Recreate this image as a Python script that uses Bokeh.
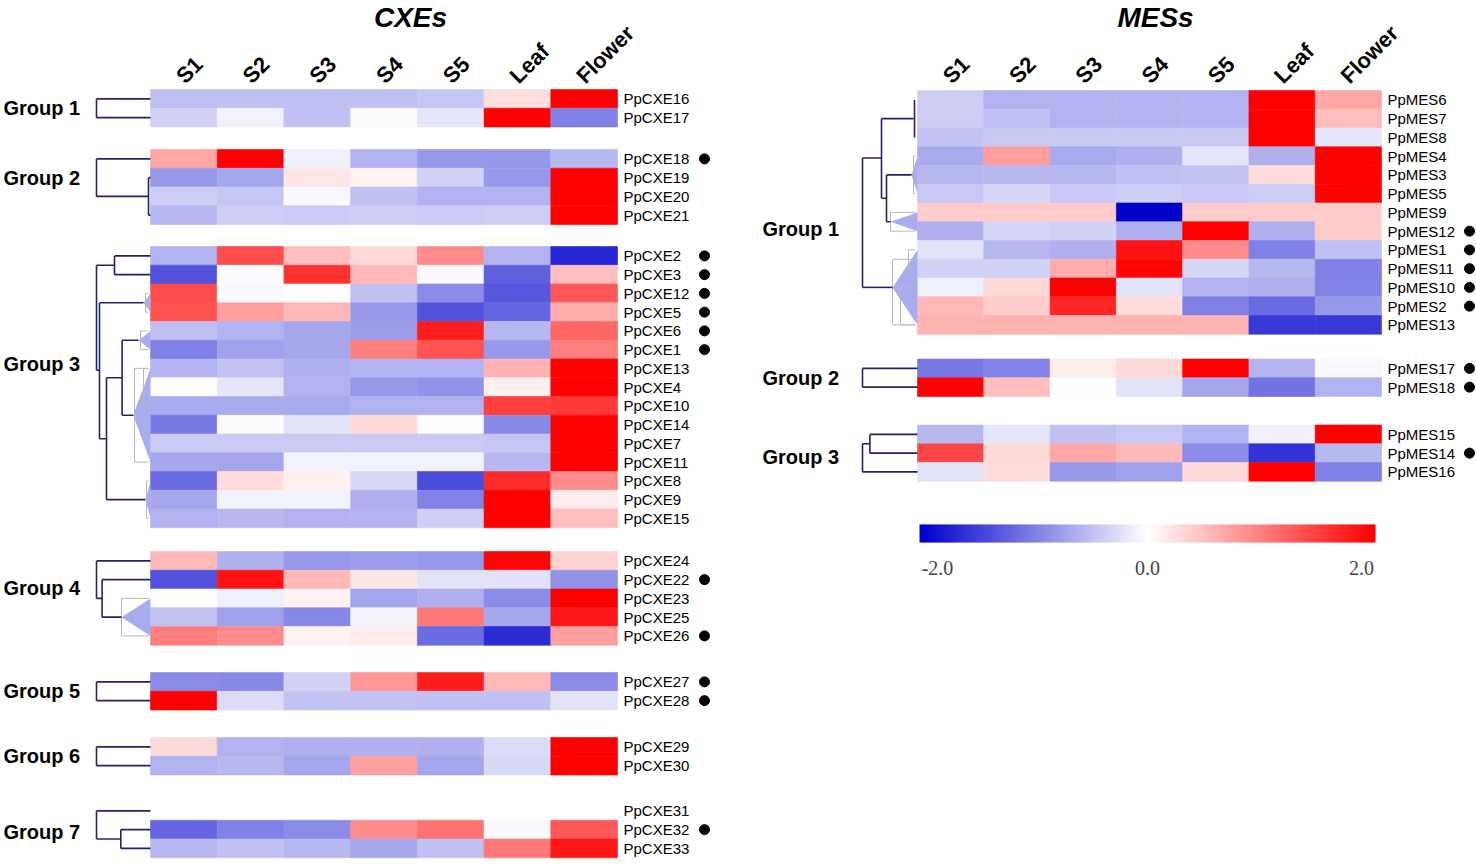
import math
import numpy as np
from bokeh.plotting import figure
from bokeh.models import Range1d, ColumnDataSource, LinearColorMapper
from bokeh.transform import transform
from bokeh.core.properties import value
from bokeh.embed import file_html
from bokeh.resources import INLINE

# ---------------- data ----------------
samples = ["S1", "S2", "S3", "S4", "S5", "Leaf", "Flower"]

cxe_groups = ["Group 1", "Group 2", "Group 3", "Group 4", "Group 5", "Group 6", "Group 7"]
cxe_group_sizes = [2, 4, 15, 5, 2, 2, 3]
cxe_genes = ["PpCXE16", "PpCXE17",
             "PpCXE18", "PpCXE19", "PpCXE20", "PpCXE21",
             "PpCXE2", "PpCXE3", "PpCXE12", "PpCXE5", "PpCXE6", "PpCXE1", "PpCXE13", "PpCXE4",
             "PpCXE10", "PpCXE14", "PpCXE7", "PpCXE11", "PpCXE8", "PpCXE9", "PpCXE15",
             "PpCXE24", "PpCXE22", "PpCXE23", "PpCXE25", "PpCXE26",
             "PpCXE27", "PpCXE28",
             "PpCXE29", "PpCXE30",
             "PpCXE31", "PpCXE32", "PpCXE33"]
NA = float("nan")
cxe_values = [
    [-0.50, -0.50, -0.50, -0.50, -0.45, 0.25, 2.00],
    [-0.35, -0.10, -0.50, -0.03, -0.20, 2.00, -1.00],
    [0.70, 2.00, -0.12, -0.60, -0.80, -0.80, -0.55],
    [-0.80, -0.70, 0.20, 0.10, -0.35, -0.80, 2.00],
    [-0.40, -0.45, -0.05, -0.50, -0.60, -0.60, 2.00],
    [-0.55, -0.40, -0.42, -0.40, -0.42, -0.40, 2.00],
    [-0.60, 1.40, 0.50, 0.30, 0.90, -0.60, -1.70],
    [-1.35, -0.02, 1.60, 0.55, -0.05, -1.25, 0.50],
    [1.40, -0.04, 0.00, -0.50, -0.90, -1.30, 1.30],
    [1.35, 0.75, 0.55, -0.80, -1.35, -1.20, 0.65],
    [-0.50, -0.60, -0.70, -0.78, 1.75, -0.55, 1.20],
    [-1.00, -0.75, -0.70, 1.00, 1.35, -0.80, 1.00],
    [-0.60, -0.48, -0.62, -0.60, -0.60, 0.60, 2.00],
    [0.03, -0.20, -0.60, -0.80, -0.85, 0.12, 2.00],
    [-0.67, -0.67, -0.67, -0.60, -0.60, 1.50, 1.55],
    [-1.05, -0.02, -0.23, 0.30, -0.01, -0.93, 2.00],
    [-0.42, -0.42, -0.42, -0.42, -0.42, -0.45, 2.00],
    [-0.70, -0.70, -0.10, -0.10, -0.10, -0.55, 2.00],
    [-1.15, 0.27, 0.12, -0.30, -1.40, 1.65, 0.90],
    [-0.70, -0.10, -0.10, -0.62, -0.97, 2.00, 0.15],
    [-0.60, -0.56, -0.60, -0.60, -0.38, 2.00, 0.50],
    [0.55, -0.62, -0.80, -0.78, -0.80, 1.95, 0.35],
    [-1.35, 1.85, 0.55, 0.20, -0.23, -0.23, -0.85],
    [0.00, -0.12, 0.10, -0.70, -0.62, -0.90, 2.00],
    [-0.47, -0.75, -0.93, -0.10, 1.05, -0.70, 1.80],
    [1.00, 0.90, 0.10, 0.15, -1.15, -1.65, 0.75],
    [-0.90, -0.93, -0.35, 0.80, 1.75, 0.55, -0.90],
    [2.00, -0.28, -0.48, -0.48, -0.50, -0.50, -0.23],
    [0.30, -0.60, -0.62, -0.62, -0.62, -0.28, 2.00],
    [-0.60, -0.56, -0.70, 0.75, -0.70, -0.30, 2.00],
    [NA, NA, NA, NA, NA, NA, NA],
    [-1.20, -1.00, -0.90, 0.90, 1.10, -0.04, 1.30],
    [-0.55, -0.50, -0.55, -0.70, -0.50, 1.05, 1.80],
]
cxe_marked = ["PpCXE18", "PpCXE2", "PpCXE3", "PpCXE12", "PpCXE5", "PpCXE6", "PpCXE1",
              "PpCXE22", "PpCXE26", "PpCXE27", "PpCXE28", "PpCXE32"]

mes_groups = ["Group 1", "Group 2", "Group 3"]
mes_group_sizes = [13, 2, 3]
mes_genes = ["PpMES6", "PpMES7", "PpMES8", "PpMES4", "PpMES3", "PpMES5", "PpMES9",
             "PpMES12", "PpMES1", "PpMES11", "PpMES10", "PpMES2", "PpMES13",
             "PpMES17", "PpMES18",
             "PpMES15", "PpMES14", "PpMES16"]
mes_values = [
    [-0.40, -0.60, -0.60, -0.60, -0.60, 2.00, 0.70],
    [-0.40, -0.50, -0.60, -0.60, -0.60, 2.00, 0.50],
    [-0.47, -0.43, -0.43, -0.43, -0.43, 2.00, -0.20],
    [-0.67, 0.75, -0.67, -0.62, -0.20, -0.62, 2.00],
    [-0.55, -0.55, -0.55, -0.50, -0.47, 0.27, 2.00],
    [-0.43, -0.32, -0.43, -0.40, -0.43, -0.40, 2.00],
    [0.40, 0.40, 0.40, -2.00, 0.40, 0.40, 0.40],
    [-0.62, -0.32, -0.35, -0.62, 2.00, -0.62, 0.40],
    [-0.23, -0.55, -0.62, 1.85, 0.90, -1.00, -0.50],
    [-0.35, -0.35, 0.65, 1.95, -0.32, -0.55, -1.00],
    [-0.12, 0.30, 2.00, -0.23, -0.60, -0.62, -0.97],
    [0.55, 0.40, 1.70, 0.27, -1.00, -1.17, -0.80],
    [0.60, 0.60, 0.60, 0.60, 0.60, -1.55, -1.55],
    [-1.05, -0.97, 0.15, 0.30, 2.00, -0.60, -0.05],
    [2.00, 0.50, -0.01, -0.23, -0.70, -1.10, -0.60],
    [-0.55, -0.20, -0.50, -0.43, -0.60, -0.12, 2.00],
    [1.45, 0.30, 0.70, 0.55, -0.90, -1.60, -0.55],
    [-0.23, 0.27, -0.80, -0.75, 0.30, 2.00, -1.00],
]
mes_marked = ["PpMES12", "PpMES1", "PpMES11", "PpMES10", "PpMES2",
              "PpMES17", "PpMES18", "PpMES14"]

colorbar_ticks = [-2.0, 0.0, 2.0]

# ---------------- styles / layout ----------------
W, H = 1476, 866
RH = 18.75
NAVY = "#23236b"
TRI = "#9ea4ee"
GREY = "#b8b8b8"

def col_rgb(v):
    if v < 0:
        t = min(-v / 2.0, 1.0)
        return (round(255 * (1 - t)), round(255 * (1 - t)), round(255 - 51 * t))
    t = min(v / 2.0, 1.0)
    return (255, round(255 * (1 - t)), round(255 * (1 - t)))

palette = ["#%02x%02x%02x" % col_rgb(-2 + 4 * i / 255.0) for i in range(256)]
mapper = LinearColorMapper(palette=palette, low=-2, high=2, nan_color="white")

p = figure(width=W, height=H, output_backend="svg", toolbar_location=None,
           x_range=Range1d(0, W), y_range=Range1d(H, 0),
           x_axis_type=None, y_axis_type=None, min_border=0)
p.grid.visible = False
p.outline_line_color = None
p.background_fill_color = "white"

FONT = value("Liberation Sans")


def draw_panel(genes, sizes, values, marked, tops, x0, cw, groups, group_x,
               group_r, dot_x, dendro, tris, brackets, title, title_x):
    ys = []
    for g, n in enumerate(sizes):
        for i in range(n):
            ys.append(tops[g] + (i + 0.5) * RH)
    cx, cy, cv = [], [], []
    for r, row in enumerate(values):
        for j, v in enumerate(row):
            if v == v:
                cx.append(x0 + (j + 0.5) * cw)
                cy.append(ys[r])
                cv.append(v)
    src = ColumnDataSource(dict(x=cx, y=cy, v=cv))
    p.rect("x", "y", width=cw, height=RH, source=src,
           fill_color=transform("v", mapper), line_color=transform("v", mapper),
           line_width=0.6)
    # gene labels
    p.text(x=[x0 + 7 * cw + 6] * len(genes), y=ys, text=genes,
           text_font=FONT, text_font_size="15px", text_baseline="middle",
           text_align="left", text_color="black")
    # marks
    my = [ys[genes.index(gname)] for gname in marked]
    p.scatter(x=[dot_x] * len(my), y=my, size=10, color="black")
    # column labels
    p.text(x=[x0 + (j + 0.5) * cw - 4 for j in range(7)], y=[79] * 7, text=samples,
           angle=math.pi / 4, text_font=FONT, text_font_size="22px",
           text_font_style="bold", text_align="left", text_baseline="alphabetic",
           text_color="black")
    # title
    p.text(x=[title_x], y=[17], text=[title], text_font=FONT, text_font_size="28px",
           text_font_style="bold italic", text_align="center", text_baseline="middle",
           text_color="black")
    # group labels
    p.text(x=[group_x] * len(groups), y=[tops[g] + (group_r[g] + 0.5) * RH for g in range(len(groups))],
           text=groups, text_font=FONT, text_font_size="20px", text_font_style="bold",
           text_align="left", text_baseline="middle", text_color="black")
    # collapsed-cluster triangles
    xs_t, ys_t = [], []
    for g, tip, ra, rb in tris:
        ya = tops[g] + (ra + 0.5) * RH
        yb = tops[g] + (rb + 0.5) * RH
        xs_t.append([tip, x0, x0])
        ys_t.append([(ya + yb) / 2, ya, yb])
    p.patches(xs_t, ys_t, fill_color=TRI, fill_alpha=0.9, line_color=None)
    # grey brackets
    bx0, by0, bx1, by1 = [], [], [], []
    for g, bxp, ra, rb in brackets:
        ya = tops[g] + (ra + 0.5) * RH
        yb = tops[g] + (rb + 0.5) * RH
        bx0 += [bxp, bxp, bxp]
        by0 += [ya, ya, yb]
        bx1 += [bxp, x0 - 2, x0 - 2]
        by1 += [yb, ya, yb]
    p.segment(bx0, by0, bx1, by1, line_color=GREY, line_width=1)
    # dendrogram
    dx0, dy0, dx1, dy1 = [], [], [], []
    for g, a, ra, b, rb in dendro:
        dx0.append(a)
        dy0.append(tops[g] + (ra + 0.5) * RH)
        dx1.append(b)
        dy1.append(tops[g] + (rb + 0.5) * RH)
    p.segment(dx0, dy0, dx1, dy1, line_color=NAVY, line_width=1.6)


def bracket(g, x, ra, rb, xe):
    return [(g, x, ra, x, rb), (g, x, ra, xe, ra), (g, x, rb, xe, rb)]

# CXE panel
CX0, CW = 150.0, 467.0 / 7
cxe_tops = [89, 149, 246, 551, 672, 737, 801]
cxe_group_r = [0.5, 1.0, 5.74, 1.47, 0.5, 0.5, 1.15]
cxe_dendro = []
cxe_dendro += bracket(0, 96, 0, 1, CX0)
cxe_dendro += [(1, 96, 0, 96, 2), (1, 96, 0, CX0, 0), (1, 96, 2, 148, 2),
               (1, 148, 1, 148, 3), (1, 148, 1, CX0, 1), (1, 148, 3, CX0, 3)]
cxe_dendro += bracket(2, 114, 0, 1, CX0)
cxe_dendro += [(2, 96, 0.5, 96, 6.1), (2, 96, 0.5, 114, 0.5), (2, 96, 6.1, 99, 6.1),
               (2, 99, 2.5, 99, 9.75), (2, 99, 2.5, 143, 2.5), (2, 99, 9.75, 106, 9.75),
               (2, 106, 6.5, 106, 13), (2, 106, 13, 145, 13), (2, 106, 6.5, 121.6, 6.5),
               (2, 121.6, 4.5, 121.6, 8.5), (2, 121.6, 4.5, 138, 4.5), (2, 121.6, 8.5, 132.7, 8.5)]
cxe_dendro += [(3, 96, 0, 96, 2), (3, 96, 0, CX0, 0), (3, 96, 2, 101.6, 2),
               (3, 101.6, 1, 101.6, 3), (3, 101.6, 1, CX0, 1), (3, 101.6, 3, 121, 3)]
cxe_dendro += bracket(4, 96, 0, 1, CX0)
cxe_dendro += bracket(5, 96, 0, 1, CX0)
cxe_dendro += [(6, 96, 0, 96, 1.5), (6, 96, 0, CX0, 0), (6, 96, 1.5, 120.3, 1.5)]
cxe_dendro += bracket(6, 120.3, 1, 2, CX0)
cxe_tris = [(2, 143, 2, 3), (2, 138, 4, 5), (2, 132.7, 6, 11), (2, 145, 12, 14), (3, 121, 2, 4)]
cxe_brackets = [(2, 145, 2, 3), (2, 140, 4, 5), (2, 134, 6, 11), (2, 146, 12, 14),
                (2, 143, 6, 8), (3, 121, 2, 4)]

draw_panel(cxe_genes, cxe_group_sizes, cxe_values, cxe_marked, cxe_tops, CX0, CW,
           cxe_groups, 3, cxe_group_r, 704, cxe_dendro, cxe_tris, cxe_brackets, "CXEs", 410)

# MES panel
MX0, MW = 917.0, 464.0 / 7
mes_tops = [90, 358.5, 424.5]
mes_group_r = [6.9, 0.5, 1.18]
mes_dendro = [(0, 862, 3.1, 862, 10), (0, 862, 3.1, 881, 3.1), (0, 862, 10, 892, 10),
              (0, 881, 1, 881, 5.25), (0, 881, 1, 913, 1), (0, 881, 5.25, 886, 5.25),
              (0, 886, 4, 886, 6.5), (0, 886, 4, 911, 4), (0, 886, 6.5, 890, 6.5),
              (0, 914, 0, 914, 2)]
mes_dendro += bracket(1, 862, 0, 1, MX0)
mes_dendro += bracket(2, 869.4, 0, 1, MX0)
mes_dendro += [(2, 862, 0.5, 862, 2), (2, 862, 0.5, 869.4, 0.5), (2, 862, 2, MX0, 2)]
mes_tris = [(0, 911, 3, 5), (0, 890, 6, 7), (0, 892, 8, 12)]
mes_brackets = [(0, 913, 3, 5), (0, 890, 6, 7), (0, 892, 8.5, 12), (0, 900, 10, 12),
                (0, 908, 8, 9.5)]

draw_panel(mes_genes, mes_group_sizes, mes_values, mes_marked, mes_tops, MX0, MW,
           mes_groups, 762, mes_group_r, 1469, mes_dendro, mes_tris, mes_brackets, "MESs", 1155)

# colour bar
CB_L, CB_R, CB_T, CB_B = 919.0, 1375.0, 524.0, 542.0
nstep = 152
cb_v = list(np.linspace(-2, 2, nstep))
step = (CB_R - CB_L) / nstep
cb_src = ColumnDataSource(dict(left=[CB_L + i * step for i in range(nstep)],
                               right=[min(CB_L + (i + 1) * step + 1.0, CB_R) for i in range(nstep)],
                               v=cb_v))
p.quad(left="left", right="right", top=CB_T, bottom=CB_B, source=cb_src,
       fill_color=transform("v", mapper), line_color=None)
cb_lab_x = [CB_L + (t + 2) / 4 * (CB_R - CB_L) for t in colorbar_ticks]
cb_lab_x = [cb_lab_x[0] + 18, cb_lab_x[1], cb_lab_x[2] - 14]
p.text(x=cb_lab_x, y=[567] * 3, text=["%.1f" % t for t in colorbar_ticks],
       text_font=value("Liberation Serif"), text_font_size="20px", text_align="center",
       text_baseline="middle", text_color="#444444")

open("out.html", "w").write(file_html(p, INLINE))
